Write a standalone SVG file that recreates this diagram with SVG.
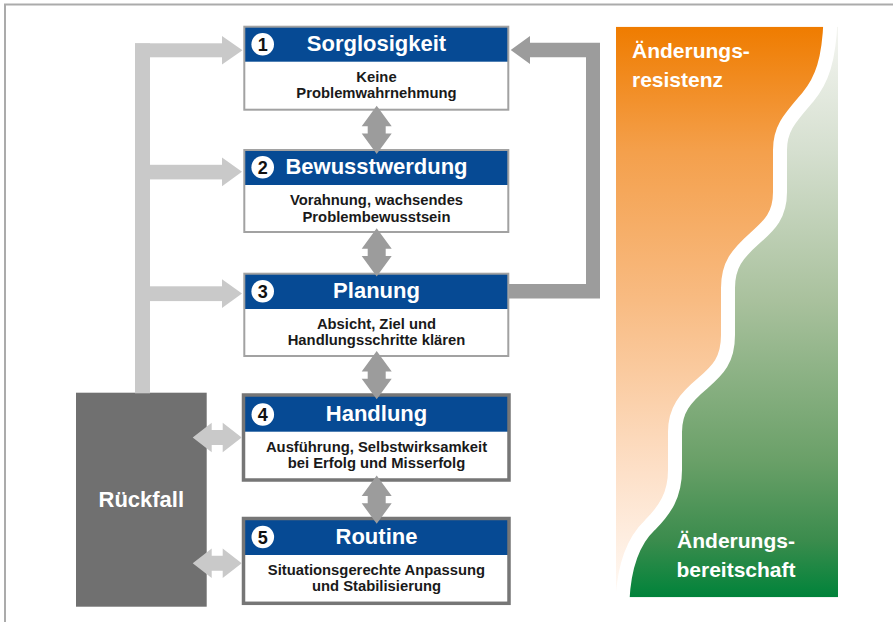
<svg xmlns="http://www.w3.org/2000/svg" xmlns:xlink="http://www.w3.org/1999/xlink" width="893" height="622" viewBox="0 0 893 622">
<style>
.body{fill:#fff}
.hdr{fill:#064a94}
.b1{fill:none;stroke:#a2a2a2;stroke-width:2}
.b2{fill:none;stroke:#767676;stroke-width:3.5}
.ht{font-family:"Liberation Sans",Arial,sans-serif;font-weight:bold;font-size:22px;fill:#fff;text-anchor:middle}
.bt{font-family:"Liberation Sans",Arial,sans-serif;font-weight:bold;font-size:14.8px;fill:#1a1a1a;text-anchor:middle}
.num{font-family:"Liberation Sans",Arial,sans-serif;font-weight:bold;font-size:18px;fill:#111;text-anchor:middle}
.pt{font-family:"Liberation Sans",Arial,sans-serif;font-weight:bold;font-size:21px;fill:#fff}
.light{fill:#c9c9c9}
.dark{fill:#9c9c9c}
</style>
<defs>
<linearGradient id="gOr" x1="0" y1="26.7" x2="0" y2="597.3" gradientUnits="userSpaceOnUse">
<stop offset="0" stop-color="#ef7c00"/>
<stop offset="0.22" stop-color="#f4a04c"/>
<stop offset="0.48" stop-color="#f8bb82"/>
<stop offset="0.78" stop-color="#fde0c8"/>
<stop offset="1" stop-color="#fffaf6"/>
</linearGradient>
<linearGradient id="gGr" x1="0" y1="26.7" x2="0" y2="597.3" gradientUnits="userSpaceOnUse">
<stop offset="0" stop-color="#f4f5f1"/>
<stop offset="0.22" stop-color="#d5dfcf"/>
<stop offset="0.48" stop-color="#a9c19d"/>
<stop offset="0.76" stop-color="#6aa068"/>
<stop offset="0.9" stop-color="#3b8c4d"/>
<stop offset="1" stop-color="#00833a"/>
</linearGradient>
<path id="vdbl" d="M0,0 L15,20.5 H9 V27.8 H15 L0,48.3 L-15,27.8 H-9 V20.5 H-15 Z"/>
<path id="hdbl" d="M0,0 L19,-14.7 V-7.5 H30 V-14.7 L49,0 L30,14.7 V7.5 H19 V14.7 Z"/>
</defs>

<rect width="893" height="622" fill="#fff"/>
<path d="M5,622 V4.5 H893" fill="none" stroke="#ababab" stroke-width="2"/>

<g id="panel">
<path d="M616,26.7 H830.5 C829,60 822,80 808,97 C790,118 780,128 780,150 L780,192 C780,215 770,225 755,238 C737,254 728,265 728,288 L728,335 C728,360 718,370 703,383 C685,398 675,410 675,432 L675,470 C675,495 665,510 650,525 C632,542 624,570 622.5,597.3 H616 Z" fill="url(#gOr)"/>
<path d="M838,26.7 H830.5 C829,60 822,80 808,97 C790,118 780,128 780,150 L780,192 C780,215 770,225 755,238 C737,254 728,265 728,288 L728,335 C728,360 718,370 703,383 C685,398 675,410 675,432 L675,470 C675,495 665,510 650,525 C632,542 624,570 622.5,597.3 H838 Z" fill="url(#gGr)"/>
<path d="M830.5,20 C829,60 822,80 808,97 C790,118 780,128 780,150 L780,192 C780,215 770,225 755,238 C737,254 728,265 728,288 L728,335 C728,360 718,370 703,383 C685,398 675,410 675,432 L675,470 C675,495 665,510 650,525 C632,542 624,570 622.5,600" fill="none" stroke="#fff" stroke-width="14"/>
<rect x="600" y="597.3" width="260" height="10" fill="#fff"/>
<rect x="600" y="16" width="260" height="10.7" fill="#fff"/>
<text class="pt" x="632" y="58.3">Änderungs-</text>
<text class="pt" x="632" y="86.7">resistenz</text>
<text class="pt" x="736" y="548" text-anchor="middle">Änderungs-</text>
<text class="pt" x="736" y="576.7" text-anchor="middle">bereitschaft</text>
</g>

<g id="node1">
<rect class="body" x="244.3" y="26.7" width="264" height="83"/>
<rect class="hdr" x="244.3" y="26.7" width="264" height="35"/>
<rect class="b1" x="244.3" y="26.7" width="264" height="83"/>
<circle cx="262.7" cy="44.2" r="11.3" fill="#fff"/>
<text class="num" x="262.7" y="50.7">1</text>
<text class="ht" x="376.5" y="51">Sorglosigkeit</text>
<text class="bt" x="376.5" y="81.7">Keine</text>
<text class="bt" x="376.5" y="98.3">Problemwahrnehmung</text>
</g>

<g id="node2">
<rect class="body" x="244.3" y="150" width="264" height="82"/>
<rect class="hdr" x="244.3" y="150" width="264" height="35"/>
<rect class="b1" x="244.3" y="150" width="264" height="82"/>
<circle cx="262.7" cy="167.3" r="11.3" fill="#fff"/>
<text class="num" x="262.7" y="173.8">2</text>
<text class="ht" x="376.5" y="174.3">Bewusstwerdung</text>
<text class="bt" x="376.5" y="205">Vorahnung, wachsendes</text>
<text class="bt" x="376.5" y="221.6">Problembewusstsein</text>
</g>

<g id="node3">
<rect class="body" x="244.3" y="273.7" width="264" height="82.3"/>
<rect class="hdr" x="244.3" y="273.7" width="264" height="35.3"/>
<rect class="b1" x="244.3" y="273.7" width="264" height="82.3"/>
<circle cx="262.7" cy="291.3" r="11.3" fill="#fff"/>
<text class="num" x="262.7" y="297.8">3</text>
<text class="ht" x="376.5" y="297.8">Planung</text>
<text class="bt" x="376.5" y="328.6">Absicht, Ziel und</text>
<text class="bt" x="376.5" y="345.2">Handlungsschritte klären</text>
</g>

<g id="node4">
<rect class="body" x="243.5" y="395" width="265.5" height="85"/>
<rect class="hdr" x="243.5" y="395" width="265.5" height="36.7"/>
<rect class="b2" x="243.5" y="395" width="265.5" height="85"/>
<circle cx="262.8" cy="414.5" r="11.3" fill="#fff"/>
<text class="num" x="262.8" y="421">4</text>
<text class="ht" x="376.5" y="420.7">Handlung</text>
<text class="bt" x="376.5" y="451.7">Ausführung, Selbstwirksamkeit</text>
<text class="bt" x="376.5" y="468.3">bei Erfolg und Misserfolg</text>
</g>

<g id="node5">
<rect class="body" x="243.5" y="518.5" width="265.5" height="84.8"/>
<rect class="hdr" x="243.5" y="518.5" width="265.5" height="36.5"/>
<rect class="b2" x="243.5" y="518.5" width="265.5" height="84.8"/>
<circle cx="262.8" cy="537" r="11.3" fill="#fff"/>
<text class="num" x="262.8" y="543.5">5</text>
<text class="ht" x="376.5" y="544.3">Routine</text>
<text class="bt" x="376.5" y="575">Situationsgerechte Anpassung</text>
<text class="bt" x="376.5" y="591.3">und Stabilisierung</text>
</g>

<g id="rueckfall">
<rect x="76" y="392.7" width="130.7" height="214" fill="#707070"/>
<text class="ht" x="141.3" y="507.3">Rückfall</text>
</g>

<g id="connectors">
<rect class="light" x="135" y="43.3" width="15" height="350"/>
<rect class="light" x="135" y="43.3" width="87.5" height="14"/>
<path class="light" d="M222,36 L242.5,50.3 L222,64.6 Z"/>
<rect class="light" x="150" y="164.8" width="72.5" height="14.6"/>
<path class="light" d="M222,157.4 L242,171.8 L222,186.2 Z"/>
<rect class="light" x="150" y="286.3" width="72.5" height="14.8"/>
<path class="light" d="M222,279.2 L242,293.6 L222,308 Z"/>
<use xlink:href="#hdbl" class="light" x="192.7" y="437.5"/>
<use xlink:href="#hdbl" class="light" x="192.7" y="563.3"/>
<path class="dark" d="M509,284 H586 V57.3 H530 V64 L510.7,50 L530,36 V42.7 H600 V298.5 H509 Z"/>
<use xlink:href="#vdbl" class="dark" x="376.7" y="105.7"/>
<use xlink:href="#vdbl" class="dark" x="376.7" y="228.2"/>
<use xlink:href="#vdbl" class="dark" x="376.7" y="351"/>
<use xlink:href="#vdbl" class="dark" x="376.7" y="475.5"/>
</g>
</svg>
